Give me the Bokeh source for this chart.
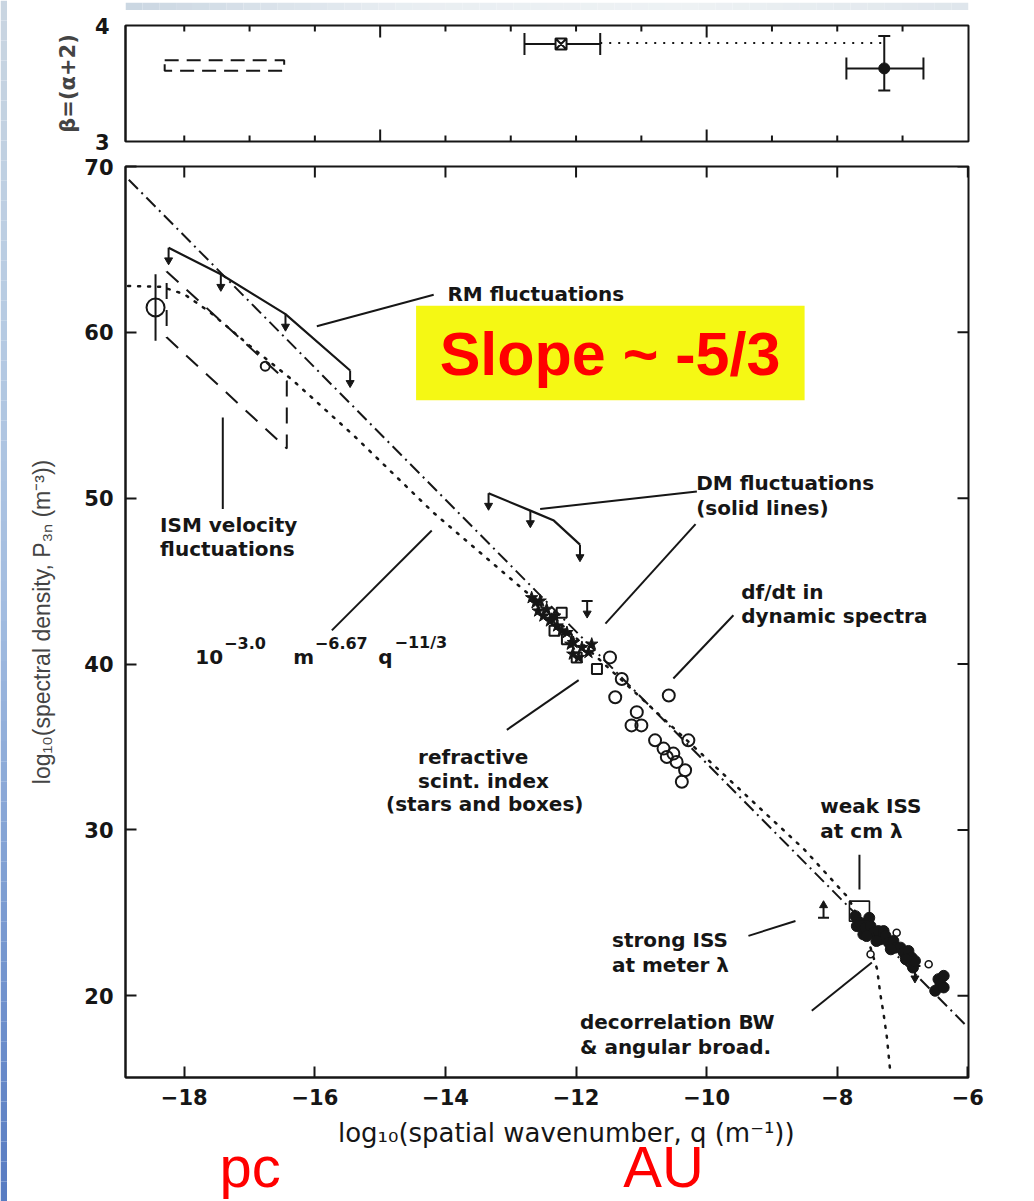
import math
from bokeh.plotting import figure
from bokeh.models import (Range1d, FixedTicker, Label, BoxAnnotation,
                          CustomJSTickFormatter)
from bokeh.layouts import row, column
from bokeh.embed import file_html
from bokeh.resources import INLINE

INK = "#161616"

# ------------------------------------------------------------------ data
# tick values
x_ticks = [-18, -16, -14, -12, -10, -8, -6]
y_ticks = [20, 30, 40, 50, 60, 70]
beta_major_ticks = [-15, -10]
beta_minor_ticks = [-18, -17, -16, -14, -13, -12, -11, -9, -8, -7]
beta_y_ticks = [3, 4]

# top panel: spectral index beta = alpha + 2
beta_x = [-12.23, -7.28]
beta_y = [3.84, 3.63]
beta_x_lo = [-12.79, -7.86]
beta_x_hi = [-11.63, -6.68]
beta_y_lo = [3.84, 3.44]
beta_y_hi = [3.84, 3.91]
beta_ism_x = [-18.30, -16.47, -16.47, -18.30, -18.30]
beta_ism_y = [3.70, 3.70, 3.61, 3.61, 3.70]
beta_link_x = [-11.63, -7.28]
beta_link_y = [3.85, 3.85]

# main panel: Kolmogorov reference (dash-dot)
kol_x = [-18.85, -6.05]
kol_y = [69.2, 18.3]
# model 10^-3.0 m^-6.67 q^-11/3 with outer / inner scale (dotted)
model_x = [-18.86, -18.35, -18.0, -17.6, -17.0, -16.33, -15.41, -14.19, -12.75,
           -10.0, -8.5, -7.83, -7.6, -7.49, -7.39, -7.34, -7.29, -7.24, -7.19]
model_y = [62.8, 62.75, 62.3, 61.2, 59.2, 57.08, 53.8, 49.15, 44.3,
           34.3, 28.8, 25.9, 24.1, 22.9, 21.6, 20.1, 18.9, 17.5, 15.5]
# RM fluctuations (upper limits)
rm_x = [-18.24, -17.44, -16.45, -15.46]
rm_y = [65.1, 63.5, 61.1, 57.7]
# DM fluctuations (upper limits)
dm_x = [-13.34, -12.70, -11.94]
dm_y = [50.3, 49.25, 47.2]
dm_curve_x = [-13.34, -12.70, -12.34, -11.94]
dm_curve_y = [50.3, 49.25, 48.65, 47.2]
# ISM velocity fluctuations (dashed region)
ism_x = [-18.27, -16.43, -16.43, -18.27, -18.27]
ism_y = [63.67, 57.06, 53.0, 59.7, 63.67]
ism_pt_x = [-18.44]
ism_pt_y = [61.5]
ism_pt_lo = [59.5]
ism_pt_hi = [63.5]
ism_small_x = [-16.76]
ism_small_y = [57.96]
# refractive scintillation index: stars and boxes
star_x = [-12.68, -12.62, -12.55, -12.50, -12.45, -12.40, -12.37, -12.29, -12.22,
          -12.14, -12.08, -12.04, -11.96, -11.91, -11.81, -11.76, -12.05, -12.58,
          -12.33]
star_y = [44.0, 43.7, 43.8, 42.9, 43.3, 42.6, 42.7, 42.3, 42.0,
          41.9, 41.2, 41.3, 40.4, 41.0, 40.7, 41.2, 40.6, 43.2,
          42.9]
box_x = [-12.22, -12.14, -12.33, -11.68, -11.99]
box_y = [43.1, 41.5, 42.0, 39.7, 40.4]
# df/dt in dynamic spectra (open circles)
circ_x = [-11.48, -11.40, -11.30, -11.07, -11.15, -11.00, -10.58, -10.79,
          -10.66, -10.51, -10.28, -10.46, -10.33, -10.38, -10.61]
circ_y = [40.4, 38.0, 39.1, 37.1, 36.3, 36.3, 38.1, 35.4,
          34.9, 34.6, 35.4, 34.1, 33.6, 32.9, 34.4]
# other upper / lower limits
ul_x = [-11.83, -6.81]
ul_y = [43.8, 21.8]
ll_x = [-8.21]
ll_y = [24.7]
# ISS (weak / strong) and decorrelation bandwidth
iss_x = [-7.72, -7.70, -7.65, -7.60, -7.57, -7.51, -7.49, -7.44, -7.37, -7.34,
         -7.29, -7.26, -7.21, -7.14, -7.11, -7.03, -6.98, -6.91, -6.86, -6.84,
         -6.81, -6.45, -6.37, -6.42, -6.50, -6.37, -7.55, -7.40, -7.18, -6.95]
iss_y = [24.8, 24.2, 24.4, 23.7, 24.1, 24.7, 24.2, 23.8, 23.9, 23.4,
         23.9, 23.6, 23.2, 23.3, 22.9, 22.9, 22.6, 22.7, 22.3, 21.7,
         22.1, 21.0, 21.2, 20.7, 20.3, 20.5, 23.6, 23.3, 22.8, 22.2]
iss_open_x = [-7.09, -6.60, -7.49]
iss_open_y = [23.8, 21.9, 22.5]
weak_x = [-7.66]
weak_y = [25.1]

# ------------------------------------------------------------------ helpers
minus_fmt = CustomJSTickFormatter(code="return tick < 0 ? '\u2212' + (-tick) : '' + tick;")
TICK_FONT = "DejaVu Sans"


def blank(w, h, xr=None, yr=None, **kw):
    f = figure(width=w, height=h, x_range=xr or Range1d(0, 1),
               y_range=yr or Range1d(0, 1), toolbar_location=None,
               output_backend="svg", x_axis_location=None, y_axis_location=None, **kw)
    f.outline_line_color = None
    f.grid.visible = False
    return f


def mix(c1, c2, t):
    a = [int(c1[i:i + 2], 16) for i in (1, 3, 5)]
    b = [int(c2[i:i + 2], 16) for i in (1, 3, 5)]
    return "#%02x%02x%02x" % tuple(round(a[k] + (b[k] - a[k]) * t) for k in range(3))


def gradient(stops, n):
    out = []
    for i in range(n):
        t = i / (n - 1) * (len(stops) - 1)
        k = min(int(t), len(stops) - 2)
        out.append(mix(stops[k], stops[k + 1], t - k))
    return out


def style_axis(ax, tick_in=11):
    ax.axis_line_width = 2
    ax.axis_line_color = INK
    ax.major_tick_in = tick_in
    ax.major_tick_out = 0
    ax.major_tick_line_width = 2
    ax.major_tick_line_color = INK
    ax.minor_tick_in = 0
    ax.minor_tick_out = 0
    ax.major_label_text_color = INK


def lab(p, x, y, text, size="20px", font="DejaVu Sans", style="bold",
        align="left", baseline="middle", color=INK):
    p.add_layout(Label(x=x, y=y, text=text, text_font=font, text_font_size=size,
                       text_font_style=style, text_align=align,
                       text_baseline=baseline, text_color=color))


X_RANGE = (-18.90, -5.99)
xr = Range1d(*X_RANGE)

# ------------------------------------------------------------------ page decorations
strip = blank(7, 1201, min_border=0)
cols = gradient(["#c9d5e1", "#b7cbe2", "#a3bde0", "#7d9dd2", "#587cc2"], 60)
strip.quad(left=0, right=1, bottom=[1 - (i + 1) / 60 for i in range(60)],
           top=[1 - i / 60 for i in range(60)], fill_color=cols, line_color=None)

band = blank(1027, 10, min_border=0)
bcols = gradient(["#cbd7e2", "#e9eef2", "#eef2f4", "#dfe6ec"], 50)
band.quad(left=[i / 50 for i in range(50)], right=[(i + 1) / 50 for i in range(50)],
          bottom=0, top=1, fill_color=bcols, line_color=None)

# ------------------------------------------------------------------ top panel
top = figure(width=1027, height=144, x_range=xr, y_range=Range1d(3, 4),
             toolbar_location=None, output_backend="svg",
             min_border_left=118, min_border_right=66, min_border_top=15,
             min_border_bottom=13)
top.grid.visible = False
top.outline_line_color = INK
top.outline_line_width = 2
top.xaxis.visible = False
top.yaxis.ticker = FixedTicker(ticks=beta_y_ticks)
style_axis(top.yaxis[0], tick_in=0)
top.yaxis.major_label_text_font = TICK_FONT
top.yaxis.major_label_text_font_style = "bold"
top.yaxis.major_label_text_font_size = "21px"
top.yaxis.major_label_standoff = 16
top.yaxis.axis_label = "β=(α+2)"
top.yaxis.axis_label_text_font = "DejaVu Sans"
top.yaxis.axis_label_text_font_style = "bold"
top.yaxis.axis_label_text_font_size = "21px"
top.yaxis.axis_label_standoff = 12

# inward ticks on bottom and top edges of the top panel (12 px major, 6 px minor)
tmaj, tmin = 12 / 116, 6 / 116
top.segment(x0=beta_major_ticks, y0=3, x1=beta_major_ticks, y1=3 + tmaj, line_width=2, color=INK)
top.segment(x0=beta_major_ticks, y0=4, x1=beta_major_ticks, y1=4 - tmaj, line_width=2, color=INK)
top.segment(x0=beta_minor_ticks, y0=3, x1=beta_minor_ticks, y1=3 + tmin, line_width=2, color=INK)
top.segment(x0=beta_minor_ticks, y0=4, x1=beta_minor_ticks, y1=4 - tmin, line_width=2, color=INK)

top.line(beta_ism_x, beta_ism_y, line_dash="14 8", line_width=2, color=INK)
top.line(beta_link_x, beta_link_y, line_dash="2 7", line_width=2, color=INK)
top.segment(x0=beta_x_lo, y0=beta_y, x1=beta_x_hi, y1=beta_y, line_width=2, color=INK)
top.segment(x0=beta_x, y0=beta_y_lo, x1=beta_x, y1=beta_y_hi, line_width=2, color=INK)
top.scatter(beta_x_lo + beta_x_hi, beta_y + beta_y, marker="dash", angle=math.pi / 2,
            size=22, line_width=2, color=INK)
top.scatter([beta_x[1], beta_x[1]], [beta_y_lo[1], beta_y_hi[1]], marker="dash",
            size=12, line_width=2, color=INK)
top.scatter([beta_x[0]], [beta_y[0]], marker="square_x", size=11, line_width=2,
            fill_color="white", line_color=INK)
top.scatter([beta_x[1]], [beta_y[1]], marker="circle", size=11, color=INK)

# ------------------------------------------------------------------ main panel
Y_RANGE = (15.07, 70)
p = figure(width=1027, height=960, x_range=xr, y_range=Range1d(*Y_RANGE),
           toolbar_location=None, output_backend="svg",
           min_border_left=118, min_border_right=66, min_border_top=12,
           min_border_bottom=37)
p.grid.visible = False
p.outline_line_color = INK
p.outline_line_width = 2

p.xaxis.ticker = FixedTicker(ticks=x_ticks)
p.xaxis.formatter = minus_fmt
style_axis(p.xaxis[0])
p.xaxis.major_label_text_font = TICK_FONT
p.xaxis.major_label_text_font_style = "bold"
p.xaxis.major_label_text_font_size = "21px"
p.xaxis.major_label_standoff = 11

p.yaxis.ticker = FixedTicker(ticks=y_ticks)
style_axis(p.yaxis[0])
p.yaxis.major_label_text_font = TICK_FONT
p.yaxis.major_label_text_font_style = "bold"
p.yaxis.major_label_text_font_size = "21px"
p.yaxis.major_label_standoff = 12
p.yaxis.axis_label = "log₁₀(spectral density, P₃ₙ (m⁻³))"
p.yaxis.axis_label_text_font = "Liberation Sans"
p.yaxis.axis_label_text_font_style = "normal"
p.yaxis.axis_label_text_font_size = "23px"
p.yaxis.axis_label_standoff = 26

# inward ticks on the top and right edges (11 px)
fx = (X_RANGE[1] - X_RANGE[0]) / 843 * 11
fy = (Y_RANGE[1] - Y_RANGE[0]) / 911 * 11
p.segment(x0=x_ticks, y0=Y_RANGE[1], x1=x_ticks, y1=Y_RANGE[1] - fy, line_width=2, color=INK)
p.segment(x0=X_RANGE[1], y0=y_ticks, x1=X_RANGE[1] - fx, y1=y_ticks, line_width=2, color=INK)

# slope box
p.add_layout(BoxAnnotation(left=-14.45, right=-8.5, bottom=55.9, top=61.6,
                           fill_color="#f5f814", fill_alpha=1.0, line_color=None))

# reference lines
p.line(kol_x, kol_y, line_dash="13 5 2 5", line_width=2, color=INK)
p.line(model_x, model_y, line_dash="2 8", line_width=2.5, line_cap="round", color=INK)

# ISM velocity region
p.line(ism_x, ism_y, line_dash="16 11", line_width=2, color=INK)
p.segment(x0=ism_pt_x, y0=ism_pt_lo, x1=ism_pt_x, y1=ism_pt_hi, line_width=2, color=INK)
p.scatter(ism_pt_x, ism_pt_y, marker="circle", size=18, fill_color=None,
          line_width=2, line_color=INK)
p.scatter(ism_small_x, ism_small_y, marker="circle", size=9, fill_color=None,
          line_width=2, line_color=INK)


def upper_limits(xs, ys, bar=False):
    tips = [y - 0.75 for y in ys]
    p.segment(x0=xs, y0=ys, x1=xs, y1=tips, line_width=2, color=INK)
    p.scatter(xs, tips, marker="inverted_triangle", size=8, color=INK)
    if bar:
        p.scatter(xs, ys, marker="dash", size=11, line_width=2, color=INK)


# RM and DM upper limits
p.line(rm_x, rm_y, line_width=2.2, color=INK)
upper_limits(rm_x, rm_y)
p.line(dm_curve_x, dm_curve_y, line_width=2.2, color=INK)
upper_limits(dm_x, dm_y)
upper_limits(ul_x, ul_y, bar=True)

# lower limit (strong ISS)
ll_tip = [y + 0.75 for y in ll_y]
p.segment(x0=ll_x, y0=ll_y, x1=ll_x, y1=ll_tip, line_width=2, color=INK)
p.scatter(ll_x, ll_tip, marker="triangle", size=8, color=INK)
p.scatter(ll_x, ll_y, marker="dash", size=11, line_width=2, color=INK)

# refractive scintillation, df/dt, ISS
p.scatter(star_x, star_y, marker="star", size=13, color=INK)
p.scatter(box_x, box_y, marker="square", size=10, fill_color=None, line_width=2,
          line_color=INK)
p.scatter(circ_x, circ_y, marker="circle", size=12, fill_color=None, line_width=2,
          line_color=INK)
p.scatter(iss_x, iss_y, marker="circle", size=11, color=INK)
p.scatter(iss_open_x, iss_open_y, marker="circle", size=7, fill_color=None,
          line_width=1.6, line_color=INK)
p.scatter(weak_x, weak_y, marker="square", size=20, fill_color=None, line_width=1.6,
          line_color=INK)

# pointer lines for the annotations
p.segment(x0=[-15.97, -17.41, -15.74, -12.55, -11.55, -10.51, -13.06, -7.66, -9.36, -8.39],
          y0=[60.37, 54.86, 42.03, 49.35, 42.44, 39.13, 36.03, 28.5, 23.61, 19.10],
          x1=[-14.18, -17.41, -14.21, -10.15, -10.17, -9.59, -11.96, -7.66, -8.64, -7.47],
          y1=[62.27, 49.35, 48.05, 50.4, 48.44, 42.94, 39.03, 26.4, 24.51, 22.0],
          line_width=2, color=INK)

# annotation texts
lab(p, -13.97, 62.31, "RM fluctuations")
lab(p, -18.37, 48.37, "ISM velocity")
lab(p, -18.37, 46.92, "fluctuations")
lab(p, -10.16, 50.89, "DM fluctuations")
lab(p, -10.16, 49.39, "(solid lines)")
lab(p, -9.47, 44.34, "df/dt in")
lab(p, -9.47, 42.90, "dynamic spectra")
lab(p, -14.42, 34.42, "refractive")
lab(p, -14.42, 32.92, "scint. index")
lab(p, -14.91, 31.54, "(stars and boxes)")
lab(p, -8.26, 31.42, "weak ISS")
lab(p, -8.26, 29.92, "at cm λ")
lab(p, -11.45, 23.37, "strong ISS")
lab(p, -11.45, 21.86, "at meter λ")
lab(p, -11.94, 18.44, "decorrelation BW")
lab(p, -11.94, 16.93, "& angular broad.")

# 10^-3.0 m^-6.67 q^-11/3
lab(p, -17.83, 40.45, "10")
lab(p, -17.39, 41.29, "−3.0", size="16px")
lab(p, -16.33, 40.45, "m")
lab(p, -16.00, 41.29, "−6.67", size="16px")
lab(p, -15.03, 40.45, "q")
lab(p, -14.78, 41.29, "−11/3", size="16px")

# highlighted slope text
lab(p, -11.48, 58.72, "Slope ~ -5/3", size="61px", font="Liberation Sans",
    align="center", color="#ff0000")

# ------------------------------------------------------------------ x-axis title and scale marks
bottom = blank(1027, 87, xr=xr, yr=Range1d(0, 87), min_border_left=118,
               min_border_right=66, min_border_top=0, min_border_bottom=0)
lab(bottom, -12.15, 69, "log₁₀(spatial wavenumber, q (m⁻¹))", size="26px",
    style="normal", align="center")
lab(bottom, -16.99, 35, "pc", size="58px", font="Liberation Sans", style="normal",
    align="center", color="#ff0000")
lab(bottom, -10.66, 35, "AU", size="58px", font="Liberation Sans", style="normal",
    align="center", color="#ff0000")

layout = row(strip, column(band, top, p, bottom))
open("out.html", "w").write(file_html(layout, INLINE))
